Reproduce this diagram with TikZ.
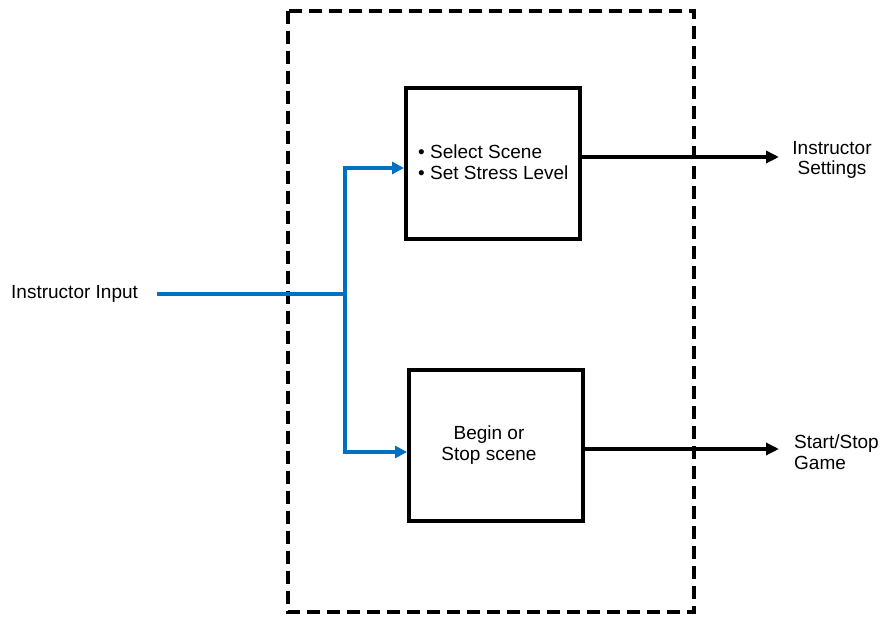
\documentclass[tikz,border=0pt]{standalone}
\usepackage{fontspec}
\setmainfont{Liberation Sans}
\usetikzlibrary{arrows.meta}
\definecolor{flowblue}{RGB}{0,112,192}
\tikzset{
  blockbox/.style={draw=black, line width=4pt, minimum width=174pt, minimum height=151pt, anchor=north west, inner sep=0pt},
  lbl/.style={font=\fontsize{19}{20.5}\selectfont, inner sep=0pt, align=left},
  bluearrow/.style={draw=flowblue, line width=4pt, -{Triangle[length=12pt,width=12pt]}},
  bluewire/.style={draw=flowblue, line width=4pt},
  blackarrow/.style={draw=black, line width=4pt, -{Triangle[length=13pt,width=12pt]}},
  outer/.style={draw=black, line width=4pt, dash pattern=on 13pt off 7pt}
}
\begin{document}
\begin{tikzpicture}[x=1pt,y=-1pt]
\useasboundingbox (0,0) rectangle (887,617);
\draw[outer] (288,11) rectangle (694,612);
\node[blockbox] (b1) at (404,86) {};
\node[blockbox] (b2) at (407,368) {};
\node[lbl, anchor=west] (t1) at (418,162) {• Select Scene\\• Set Stress Level};
\node[lbl, align=center] (t2) at (489,445) {Begin or\\Stop scene};
\node[lbl, anchor=west] (inp) at (11,294) {Instructor Input};
\coordinate (s) at (157,294);
\coordinate (j) at (345,294);
\coordinate (jt) at (345,168);
\coordinate (jb) at (345,452);
\draw[bluewire] (s) -- (j);
\draw[bluearrow] (j) -- (jt) -- (b1.west |- jt);
\draw[bluearrow] (j) -- (jb) -- (b2.west |- jb);
\node[lbl, align=center] (o1) at (832,160) {Instructor\\Settings};
\node[lbl, anchor=west] (o2) at (794,452) {Start/Stop\\Game};
\coordinate (e1) at (779,157);
\coordinate (e2) at (779,449);
\draw[blackarrow] (b1.east |- e1) -- (e1);
\draw[blackarrow] (b2.east |- e2) -- (e2);
\end{tikzpicture}
\end{document}
